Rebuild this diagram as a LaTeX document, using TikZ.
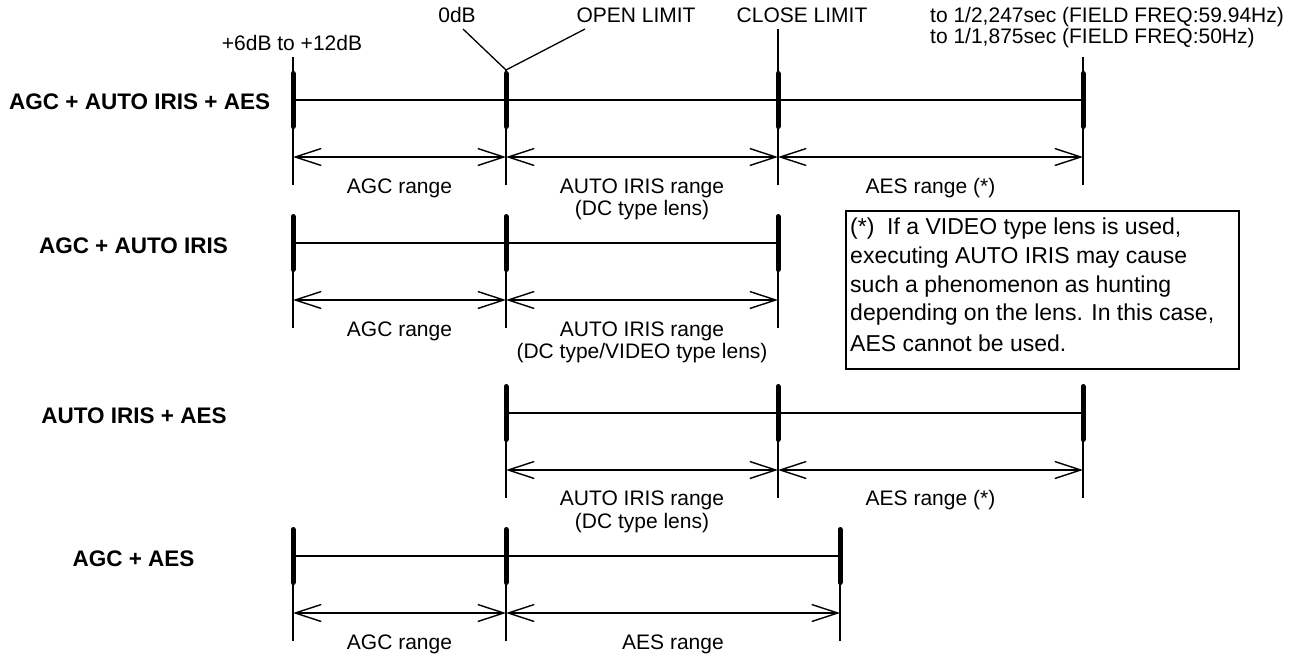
\documentclass[tikz,border=0pt]{standalone}
\usepackage{fontspec}
\setmainfont{Liberation Sans}
\usetikzlibrary{arrows.meta}
\begin{document}
\begin{tikzpicture}[x=1pt,y=-1pt,
  mainline/.style={line width=1.5pt},
  thinline/.style={line width=1.3pt},
  barline/.style={line width=5pt, line cap=round},
  tipv/.tip={Straight Barb[length=26pt,width=17pt,line width=1.4pt]},
  dimline/.style={line width=1.4pt, tipv-tipv},
  lbl/.style={font=\fontsize{21}{23}\selectfont, inner sep=0pt, anchor=base},
  rowlbl/.style={font=\fontsize{22.5}{25}\selectfont\bfseries, inner sep=0pt, anchor=base},
  notetxt/.style={font=\fontsize{23}{28}\selectfont, inner sep=0pt, anchor=base west},
]
\useasboundingbox (0,0) rectangle (1297,656);

% ---------------- top labels ----------------
\node[lbl] (t6db) at (292,50) {+6dB to +12dB};
\node[lbl] (t0db) at (457,22) {0dB};
\node[lbl] (topen) at (636,22) {OPEN LIMIT};
\node[lbl] (tclose) at (802,22) {CLOSE LIMIT};
\node[lbl, anchor=base west] (tfreqa) at (930,22) {to 1/2,247sec (FIELD FREQ:59.94Hz)};
\node[lbl, anchor=base west] (tfreqb) at (930,43) {to 1/1,875sec (FIELD FREQ:50Hz)};

% ---------------- row 1 ----------------
\node[rowlbl, anchor=base west] (r1) at (9,109) {AGC + AUTO IRIS + AES};
\coordinate (a1) at (293,100);
\coordinate (e1) at (1083,100);
\draw[mainline] (a1) -- (e1);
\draw[thinline] (293,57) -- (293,185);
\draw[thinline] (506,70) -- (506,185);
\draw[thinline] (778,29) -- (778,185);
\draw[thinline] (1083,57) -- (1083,185);
\foreach \x in {293,506,778,1083} \draw[barline] (\x,73.5) -- (\x,126.5);
\coordinate (lz) at (463,29);
\coordinate (lo) at (585,29);
\coordinate (lk) at (506,70);
\draw[thinline] (lz) -- (lk) -- (lo);
\coordinate (d1a) at (293,157);
\coordinate (d1b) at (506,157);
\coordinate (d1c) at (778,157);
\coordinate (d1d) at (1083,157);
\draw[dimline] (d1a) -- (d1b);
\draw[dimline] (d1b) -- (d1c);
\draw[dimline] (d1c) -- (d1d);
\node[lbl] (l1a) at (399.5,193) {AGC range};
\node[lbl] (l1b) at (642,193) {AUTO IRIS range};
\node[lbl] (l1c) at (642,215) {(DC type lens)};
\node[lbl] (l1d) at (930.5,193) {AES range (*)};

% ---------------- row 2 ----------------
\node[rowlbl] (r2) at (133.5,253) {AGC + AUTO IRIS};
\coordinate (a2) at (293,243);
\coordinate (c2) at (778,243);
\draw[mainline] (a2) -- (c2);
\foreach \x in {293,506,778} {
  \draw[thinline] (\x,216) -- (\x,328);
  \draw[barline] (\x,216.5) -- (\x,269.5);
}
\coordinate (d2a) at (293,300);
\coordinate (d2b) at (506,300);
\coordinate (d2c) at (778,300);
\draw[dimline] (d2a) -- (d2b);
\draw[dimline] (d2b) -- (d2c);
\node[lbl] (l2a) at (399.5,336) {AGC range};
\node[lbl] (l2b) at (642,336) {AUTO IRIS range};
\node[lbl] (l2c) at (642,358) {(DC type/VIDEO type lens)};

% ---------------- note box ----------------
\node[draw, line width=1.5pt, inner sep=0pt, anchor=north west,
      minimum width=393pt, minimum height=158pt] (note) at (845,210) {};
\node[notetxt] (n1) at (850,234) {(*)\ \ If a VIDEO type lens is used,};
\node[notetxt] (n2) at (850,263) {executing AUTO IRIS may cause};
\node[notetxt] (n3) at (850,292) {such a phenomenon as hunting};
\node[notetxt] (n4) at (850,320) {depending on the lens. In this case,};
\node[notetxt] (n5) at (850,351) {AES cannot be used.};

% ---------------- row 3 ----------------
\node[rowlbl] (r3) at (134,423) {AUTO IRIS + AES};
\coordinate (b3) at (506,413);
\coordinate (e3) at (1083,413);
\draw[mainline] (b3) -- (e3);
\foreach \x in {506,778,1083} {
  \draw[thinline] (\x,386) -- (\x,498);
  \draw[barline] (\x,386.5) -- (\x,439.5);
}
\coordinate (d3b) at (506,470);
\coordinate (d3c) at (778,470);
\coordinate (d3d) at (1083,470);
\draw[dimline] (d3b) -- (d3c);
\draw[dimline] (d3c) -- (d3d);
\node[lbl] (l3b) at (642,505) {AUTO IRIS range};
\node[lbl] (l3c) at (642,528) {(DC type lens)};
\node[lbl] (l3d) at (930.5,505) {AES range (*)};

% ---------------- row 4 ----------------
\node[rowlbl] (r4) at (133.5,566) {AGC + AES};
\coordinate (a4) at (293,556);
\coordinate (f4) at (840,556);
\draw[mainline] (a4) -- (f4);
\foreach \x in {293,506,840} {
  \draw[thinline] (\x,529) -- (\x,641);
  \draw[barline] (\x,529.5) -- (\x,582.5);
}
\coordinate (d4a) at (293,613);
\coordinate (d4b) at (506,613);
\coordinate (d4f) at (840,613);
\draw[dimline] (d4a) -- (d4b);
\draw[dimline] (d4b) -- (d4f);
\node[lbl] (l4a) at (399.5,649) {AGC range};
\node[lbl] (l4b) at (673,649) {AES range};
\end{tikzpicture}
\end{document}
